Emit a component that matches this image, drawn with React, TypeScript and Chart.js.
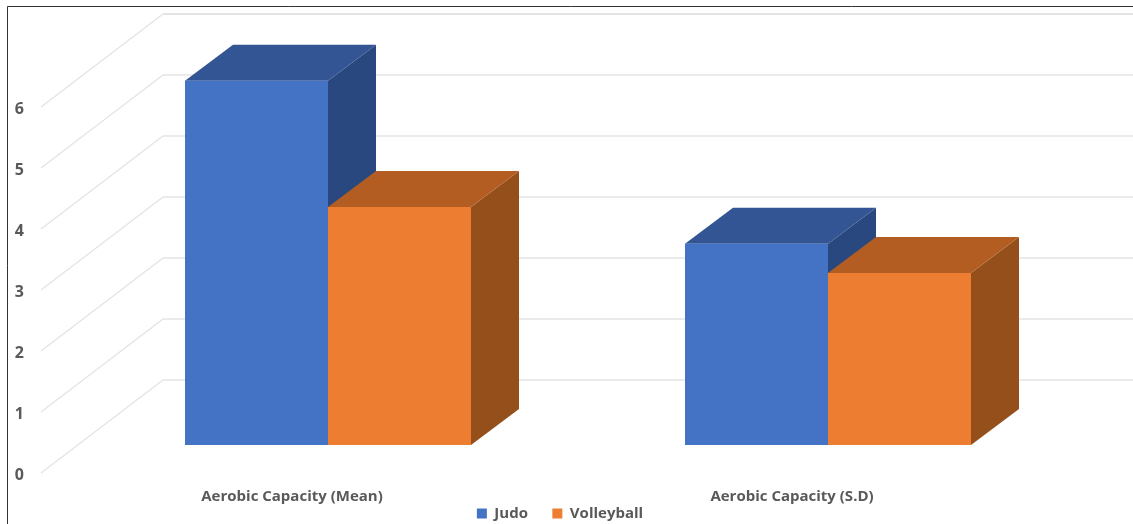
import React, { useEffect, useRef } from "react";
import { Chart, registerables } from "chart.js";

Chart.register(...registerables);

const categories = ["Aerobic Capacity (Mean)", "Aerobic Capacity (S.D)"];
const judoValues = [5.97, 3.3];
const volleyballValues = [3.9, 2.82];
const valueTicks = [0, 1, 2, 3, 4, 5, 6];

const FONT = '"Open Sans", sans-serif';
const TEXT = "#595959";
const GRID = "#e4e4e4";

// Depth of the bars and of the floor, used for the oblique projection.
const BAR_DEPTH = { dx: 48, dy: -36 };
const WALL_OFFSET = { dx: 85, dy: -65 };
const FLOOR_OFFSET = { dx: -37, dy: 28 };

// Spaces after the first legend entry keep the two entries apart on one tight row.
const LEGEND_ENTRY_GAP = "      ";

const faceColors = [
  { top: "#335593", side: "#2a4880" },
  { top: "#b35d22", side: "#954f1a" },
];

const cubeFaces = {
  id: "cubeFaces",
  beforeDraw(chart: any) {
    const { ctx, width, height } = chart;
    ctx.save();
    ctx.fillStyle = "#ffffff";
    ctx.fillRect(0, 0, width, height);
    ctx.strokeStyle = "#333333";
    ctx.lineWidth = 1;
    ctx.beginPath();
    ctx.moveTo(7.5, height);
    ctx.lineTo(7.5, 6.5);
    ctx.lineTo(width, 6.5);
    ctx.stroke();
    ctx.restore();
  },
  beforeDatasetsDraw(chart: any) {
    const { ctx, width, chartArea, scales } = chart;
    const y = scales.y;
    ctx.save();

    // Back wall rules and the diagonals running down the side wall.
    const wallX = chartArea.left + WALL_OFFSET.dx;
    ctx.strokeStyle = GRID;
    valueTicks.forEach((v) => {
      const py = y.getPixelForValue(v);
      ctx.lineWidth = 1.3;
      ctx.beginPath();
      ctx.moveTo(chartArea.left + FLOOR_OFFSET.dx, py + FLOOR_OFFSET.dy);
      ctx.lineTo(wallX, py + WALL_OFFSET.dy);
      ctx.stroke();
      ctx.lineWidth = v === y.max ? 2 : 1.5;
      ctx.beginPath();
      ctx.moveTo(wallX, py + WALL_OFFSET.dy);
      ctx.lineTo(width, py + WALL_OFFSET.dy);
      ctx.stroke();
    });

    // Top and side faces of each bar, left to right so neighbours overlap properly.
    chart.data.datasets.forEach((_: any, di: number) => {
      const colors = faceColors[di];
      chart.getDatasetMeta(di).data.forEach((bar: any) => {
        const left = bar.x - bar.width / 2;
        const right = bar.x + bar.width / 2;
        const { dx, dy } = BAR_DEPTH;
        ctx.fillStyle = colors.side;
        ctx.beginPath();
        ctx.moveTo(right, bar.y);
        ctx.lineTo(right + dx, bar.y + dy);
        ctx.lineTo(right + dx, bar.base + dy);
        ctx.lineTo(right, bar.base);
        ctx.closePath();
        ctx.fill();
        ctx.fillStyle = colors.top;
        ctx.beginPath();
        ctx.moveTo(left, bar.y);
        ctx.lineTo(left + dx, bar.y + dy);
        ctx.lineTo(right + dx, bar.y + dy);
        ctx.lineTo(right, bar.y);
        ctx.closePath();
        ctx.fill();
      });
    });
    ctx.restore();
  },
};

export default function App() {
  const ref = useRef<HTMLCanvasElement>(null);

  useEffect(() => {
    const chart = new Chart(ref.current!, {
      type: "bar",
      data: {
        labels: categories,
        datasets: [
          { label: "Judo", data: judoValues, backgroundColor: "#4472c4" },
          { label: "Volleyball", data: volleyballValues, backgroundColor: "#ed7d31" },
        ],
      },
      options: {
        animation: false,
        responsive: false,
        layout: { padding: { top: 79, right: 13, left: 0, bottom: -7 } },
        datasets: { bar: { barPercentage: 1, categoryPercentage: 0.572, borderWidth: 0 } },
        scales: {
          x: {
            grid: { display: false, drawTicks: false },
            border: { display: false },
            ticks: {
              color: TEXT,
              font: { family: FONT, size: 15, weight: 700 },
              padding: 43,
              labelOffset: -36,
              maxRotation: 0,
            },
            afterFit(scale: any) {
              scale.height = 60;
            },
          },
          y: {
            min: 0,
            max: 6,
            grid: { display: false, drawTicks: false },
            border: { display: false },
            ticks: {
              stepSize: 1,
              color: TEXT,
              font: { family: FONT, size: 16, weight: 700 },
              padding: 54,
              labelOffset: 30,
            },
            afterFit(scale: any) {
              scale.width = 78;
            },
          },
          gutter: {
            axis: "y",
            position: "right",
            grid: { display: false, drawTicks: false },
            border: { display: false },
            ticks: { display: false },
            afterFit(scale: any) {
              scale.width = 42;
            },
          },
        },
        plugins: {
          title: { display: false },
          tooltip: { enabled: false },
          legend: {
            position: "bottom",
            labels: {
              boxWidth: 10,
              boxHeight: 10,
              padding: 1,
              color: TEXT,
              font: { family: FONT, size: 15, weight: 700 },
              generateLabels(c: any) {
                const items = Chart.defaults.plugins.legend.labels.generateLabels(c);
                items[0].text += LEGEND_ENTRY_GAP;
                return items;
              },
            },
          },
        },
      } as any,
      plugins: [cubeFaces],
    });
    return () => chart.destroy();
  }, []);

  return (
    <div style={{ position: "fixed", left: 0, top: 0, width: 1133, height: 524 }}>
      <canvas ref={ref} width={1133} height={524} style={{ display: "block" }} />
    </div>
  );
}
